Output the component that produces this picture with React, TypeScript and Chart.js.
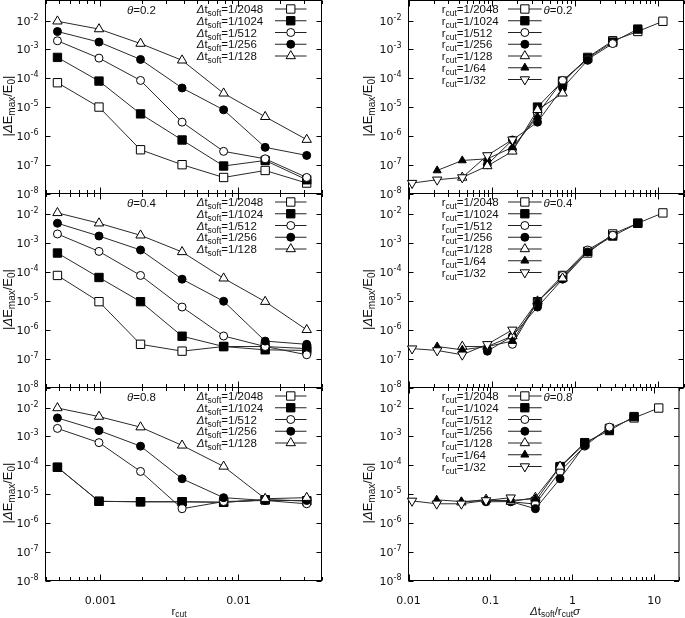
import React, { useEffect, useRef } from 'react';
import { Chart, registerables } from 'chart.js';

Chart.register(...registerables);

const FONT = '"DejaVu Sans", "Liberation Sans", sans-serif';
const FONT2 = '"Liberation Sans", Arial, sans-serif';

// ---------- data ----------
const rcutLabels = ['1/2048', '1/1024', '1/512', '1/256', '1/128', '1/64', '1/32'];
const rcutValues = [1 / 2048, 1 / 1024, 1 / 512, 1 / 256, 1 / 128, 1 / 64, 1 / 32];
const dtLabels = ['1/2048', '1/1024', '1/512', '1/256', '1/128'];
const dtValues = [1 / 2048, 1 / 1024, 1 / 512, 1 / 256, 1 / 128];
const thetaLabels = ['0.2', '0.4', '0.8'];
const SIGMA = Math.SQRT2;

// rows: Δt_soft = 1/2048 … 1/128 ; columns: r_cut = 1/2048 … 1/32
const errTheta02 = [
  [7.0e-5, 1.0e-5, 3.3e-7, 1.0e-7, 3.6e-8, 6.3e-8, 2.3e-8],
  [5.3e-4, 8.0e-5, 5.8e-6, 7.2e-7, 9.0e-8, 1.4e-7, 3.0e-8],
  [2.0e-3, 5.0e-4, 8.4e-5, 3.0e-6, 2.9e-7, 1.6e-7, 3.6e-8],
  [4.2e-3, 1.8e-3, 4.5e-4, 4.6e-5, 8.0e-6, 4.0e-7, 2.1e-7],
  [9.5e-3, 5.1e-3, 1.6e-3, 4.2e-4, 3.0e-5, 4.6e-6, 7.4e-7],
];
const errTheta04 = [
  [7.4e-5, 9.2e-6, 3.1e-7, 1.8e-7, 2.6e-7, 2.6e-7, 2.2e-7],
  [4.4e-4, 6.3e-5, 9.2e-6, 5.9e-7, 2.6e-7, 2.0e-7, 1.9e-7],
  [2.0e-3, 5.0e-4, 7.4e-5, 6.0e-6, 6.0e-7, 2.6e-7, 1.35e-7],
  [4.7e-3, 1.7e-3, 5.6e-4, 5.5e-5, 9.5e-6, 4.0e-7, 3.1e-7],
  [1.07e-2, 4.7e-3, 1.8e-3, 4.8e-4, 5.9e-5, 9.2e-6, 9.8e-7],
];
const errTheta08 = [
  [8.5e-5, 5.6e-6, 5.4e-6, 5.4e-6, 5.2e-6, 6.3e-6, 5.8e-6],
  [5.5e-4, 9.0e-5, 4.5e-6, 5.5e-6, 6.5e-6, 5.5e-6, 4.6e-6],
  [1.9e-3, 6.1e-4, 6.1e-5, 3.1e-6, 5.5e-6, 6.0e-6, 4.6e-6],
  [4.4e-3, 1.6e-3, 4.6e-4, 3.4e-5, 7.5e-6, 6.0e-6, 6.0e-6],
  [9.7e-3, 4.9e-3, 2.1e-3, 4.9e-4, 9.1e-5, 6.9e-6, 7.5e-6],
];
// which data row is plotted for each Δt_soft legend entry in the left panels
const leftRowsTheta02 = [0, 1, 2, 3, 4];
const leftRowsTheta04 = [0, 1, 2, 3, 4];
const leftRowsTheta08 = [0, 0, 2, 3, 4];

const yTickValues = [1e-8, 1e-7, 1e-6, 1e-5, 1e-4, 1e-3, 1e-2];
const yTickExponents = ['-8', '-7', '-6', '-5', '-4', '-3', '-2'];
const yRange = [1e-8, 5e-2];
const leftXRange = [4e-4, 4e-2];
const rightXRange = [0.01, 20];
const leftXMajor = [0.001, 0.01];
const leftXMajorLabels = ['0.001', '0.01'];
const rightXMajor = [0.01, 0.1, 1, 10];
const rightXMajorLabels = ['0.01', '0.1', '1', '10'];

const matrices = [errTheta02, errTheta04, errTheta08];
const leftRows = [leftRowsTheta02, leftRowsTheta04, leftRowsTheta08];

// ---------- styles / layout ----------
type Marker = { style: string; fill: boolean; r: number; rot: number };
const markers: Marker[] = [
  { style: 'rect', fill: false, r: 5.9, rot: 0 },
  { style: 'rect', fill: true, r: 5.9, rot: 0 },
  { style: 'circle', fill: false, r: 4.0, rot: 0 },
  { style: 'circle', fill: true, r: 4.0, rot: 0 },
  { style: 'triangle', fill: false, r: 5.4, rot: 0 },
  { style: 'triangle', fill: true, r: 4.6, rot: 0 },
  { style: 'triangle', fill: false, r: 5.4, rot: 180 },
];

const W = 685;
const H = 618;
const rowTop = [0.5, 193.5, 387.5];
const rowBottom = [193.5, 387.5, 580.5];
const cols = [
  { yWidth: 45.5, padLeft: 0, right: 321.5, legendText: 196.7, line1: 275, line2: 306.5, theta: 127, yTitleX: 11.5, xTitleX: 179 },
  { yWidth: 40, padLeft: 368.5, right: 683.5, legendText: 441.7, line1: 508, line2: 541.7, theta: 543.5, yTitleX: 371.5, xTitleX: 555 },
];

type Part = { t: string; sub?: boolean; sup?: boolean; it?: boolean };
type TextStyle = { fam: string; size: number; small: number; subDy: number; supDy: number };
const tickStyle: TextStyle = { fam: FONT, size: 11, small: 8, subDy: 3, supDy: -5 };
const legendStyle: TextStyle = { fam: FONT2, size: 11.5, small: 8.5, subDy: 3, supDy: -5 };
const titleStyle: TextStyle = { fam: FONT2, size: 13, small: 10, subDy: 3, supDy: -5 };

function fontFor(p: Part, s: TextStyle) {
  const size = p.sub || p.sup ? s.small : s.size;
  return `${p.it ? 'italic ' : ''}${size}px ${s.fam}`;
}
function partsWidth(ctx: CanvasRenderingContext2D, parts: Part[], s: TextStyle) {
  let w = 0;
  for (const p of parts) {
    ctx.font = fontFor(p, s);
    w += ctx.measureText(p.t).width;
  }
  return w;
}
function drawParts(ctx: CanvasRenderingContext2D, parts: Part[], x: number, baseY: number, align: string, s: TextStyle) {
  const total = partsWidth(ctx, parts, s);
  let cx = align === 'right' ? x - total : align === 'center' ? x - total / 2 : x;
  ctx.textAlign = 'left';
  ctx.textBaseline = 'alphabetic';
  for (const p of parts) {
    ctx.font = fontFor(p, s);
    const dy = p.sub ? s.subDy : p.sup ? s.supDy : 0;
    ctx.fillText(p.t, cx, baseY + dy);
    cx += ctx.measureText(p.t).width;
  }
}
function drawMarker(ctx: CanvasRenderingContext2D, m: Marker, x: number, y: number) {
  ctx.beginPath();
  if (m.style === 'rect') {
    const s = m.r * Math.SQRT1_2;
    ctx.rect(x - s, y - s, 2 * s, 2 * s);
  } else if (m.style === 'circle') {
    ctx.arc(x, y, m.r, 0, Math.PI * 2);
  } else {
    let rad = (m.rot * Math.PI) / 180;
    ctx.moveTo(x + Math.sin(rad) * m.r, y - Math.cos(rad) * m.r);
    rad += (2 * Math.PI) / 3;
    ctx.lineTo(x + Math.sin(rad) * m.r, y - Math.cos(rad) * m.r);
    rad += (2 * Math.PI) / 3;
    ctx.lineTo(x + Math.sin(rad) * m.r, y - Math.cos(rad) * m.r);
    ctx.closePath();
  }
  ctx.fillStyle = m.fill ? '#000' : '#fff';
  ctx.fill();
  ctx.lineWidth = 1;
  ctx.strokeStyle = '#000';
  ctx.stroke();
}

const decorPlugin = {
  id: 'panelDecor',
  beforeDatasetsDraw(chart: any) {
    const { ctx, chartArea: a } = chart;
    const xs = chart.scales.x;
    const ys = chart.scales.y;
    ctx.save();
    ctx.strokeStyle = '#000';
    ctx.lineWidth = 1;
    ctx.beginPath();
    for (const t of xs.ticks) {
      const p = Math.round(xs.getPixelForValue(t.value)) + 0.5;
      const len = t.major ? 6 : 3.5;
      ctx.moveTo(p, a.bottom);
      ctx.lineTo(p, a.bottom - len);
      ctx.moveTo(p, a.top);
      ctx.lineTo(p, a.top + len);
    }
    for (const t of ys.ticks) {
      const p = Math.round(ys.getPixelForValue(t.value)) + 0.5;
      ctx.moveTo(a.left, p);
      ctx.lineTo(a.left + 5, p);
      ctx.moveTo(a.right, p);
      ctx.lineTo(a.right - 5, p);
    }
    ctx.stroke();
    ctx.strokeRect(a.left, a.top, a.right - a.left, a.bottom - a.top);
    ctx.restore();
  },
  afterDatasetsDraw(chart: any, _args: any, o: any) {
    const { ctx, chartArea: a } = chart;
    const ys = chart.scales.y;
    ctx.save();
    ctx.fillStyle = '#111';
    // y tick labels 10^k
    ys.ticks.forEach((t: any, i: number) => {
      const p = ys.getPixelForValue(t.value);
      drawParts(ctx, [{ t: '10' }, { t: yTickExponents[i], sup: true }], a.left - 7, p + 4, 'right', tickStyle);
    });
    // y title
    ctx.save();
    ctx.translate(o.yTitleX, (a.top + a.bottom) / 2 + 9);
    ctx.rotate(-Math.PI / 2);
    ctx.fillStyle = '#111';
    drawParts(
      ctx,
      [{ t: '|' }, { t: 'Δ', it: true }, { t: 'E' }, { t: 'max', sub: true }, { t: '/E' }, { t: '0', sub: true }, { t: '|' }],
      0,
      0,
      'center',
      titleStyle
    );
    ctx.restore();
    // theta label
    ctx.fillStyle = '#111';
    drawParts(ctx, [{ t: 'θ', it: true }, { t: '=' + o.theta }], o.thetaX, a.top + 13.5, 'left', legendStyle);
    // legend
    o.entries.forEach((e: any, i: number) => {
      const y = a.top + 8.5 + i * 11.75;
      ctx.fillStyle = '#111';
      drawParts(ctx, e.parts, o.legendText, y + 4, 'left', legendStyle);
      ctx.strokeStyle = '#222';
      ctx.lineWidth = 1;
      ctx.beginPath();
      ctx.moveTo(o.line1, y);
      ctx.lineTo(o.line2, y);
      ctx.stroke();
      drawMarker(ctx, e.marker, (o.line1 + o.line2) / 2, y);
    });
    // x title
    if (o.xTitle) {
      ctx.fillStyle = '#111';
      drawParts(ctx, o.xTitle, o.xTitleX, 614.5, 'center', { ...legendStyle, subDy: 2.5 });
    }
    ctx.restore();
  },
};

function logTicks(min: number, max: number, majors: number[]) {
  const out: any[] = [];
  for (let e = Math.floor(Math.log10(min)) - 1; e <= Math.ceil(Math.log10(max)); e++) {
    for (let m = 1; m <= 9; m++) {
      const v = Number((m * Math.pow(10, e)).toPrecision(6));
      if (v >= min * (1 - 1e-9) && v <= max * (1 + 1e-9)) {
        out.push({ value: v, major: majors.some((mv) => Math.abs(mv - v) / mv < 1e-6) });
      }
    }
  }
  return out;
}

function makeConfig(colIdx: number, rowIdx: number) {
  const col = cols[colIdx];
  const M = matrices[rowIdx];
  const isBottom = rowIdx === 2;
  const top = rowTop[rowIdx];
  const bottom = rowBottom[rowIdx];
  const xRange = colIdx === 0 ? leftXRange : rightXRange;
  const xMajor = colIdx === 0 ? leftXMajor : rightXMajor;
  const xMajorLabels = colIdx === 0 ? leftXMajorLabels : rightXMajorLabels;

  const datasetStyle = (m: Marker, i: number, n: number) => ({
    showLine: true,
    borderColor: '#2a2a2a',
    borderWidth: 1,
    pointStyle: m.style,
    pointRadius: m.r,
    pointHoverRadius: m.r,
    pointRotation: m.rot,
    pointBackgroundColor: m.fill ? '#000' : '#fff',
    pointBorderColor: '#000',
    pointBorderWidth: 1,
    fill: false,
    tension: 0,
    order: n - i,
    clip: 8,
  });

  let datasets: any[];
  let entries: any[];
  if (colIdx === 0) {
    const rows = leftRows[rowIdx];
    datasets = dtLabels.map((lab, k) => ({
      label: 'Δt_soft=' + lab,
      data: rcutValues.map((rc, j) => ({ x: rc, y: M[rows[k]][j] })),
      ...datasetStyle(markers[k], k, dtLabels.length),
    }));
    entries = dtLabels.map((lab, k) => ({
      parts: [{ t: 'Δ', it: true }, { t: 't' }, { t: 'soft', sub: true }, { t: '=' + lab }],
      marker: markers[k],
    }));
  } else {
    datasets = rcutLabels.map((lab, j) => ({
      label: 'r_cut=' + lab,
      data: dtValues.map((dt, i) => ({ x: dt / rcutValues[j] / SIGMA, y: M[i][j] })),
      ...datasetStyle(markers[j], j, rcutLabels.length),
    }));
    entries = rcutLabels.map((lab, j) => ({
      parts: [{ t: 'r' }, { t: 'cut', sub: true }, { t: '=' + lab }],
      marker: markers[j],
    }));
  }

  const xTitle = !isBottom
    ? null
    : colIdx === 0
    ? [{ t: 'r' }, { t: 'cut', sub: true }]
    : [{ t: 'Δ', it: true }, { t: 't' }, { t: 'soft', sub: true }, { t: '/r' }, { t: 'cut', sub: true }, { t: 'σ', it: true }];

  return {
    type: 'scatter',
    data: { datasets },
    plugins: [decorPlugin],
    options: {
      responsive: false,
      animation: false,
      events: [],
      layout: {
        autoPadding: false,
        padding: { left: col.padLeft, right: W - col.right, top, bottom: isBottom ? 0 : H - bottom },
      },
      scales: {
        x: {
          type: 'logarithmic',
          position: 'bottom',
          min: xRange[0],
          max: xRange[1],
          grid: { display: false },
          border: { display: false },
          ticks: {
            display: isBottom,
            autoSkip: false,
            maxRotation: 0,
            minRotation: 0,
            padding: 6,
            color: '#111',
            font: { family: FONT, size: 11 },
            callback: (v: number) => {
              const idx = xMajor.findIndex((mv) => Math.abs(mv - v) / mv < 1e-6);
              return idx >= 0 ? xMajorLabels[idx] : '';
            },
          },
          afterBuildTicks: (s: any) => {
            s.ticks = logTicks(xRange[0], xRange[1], xMajor);
          },
          afterFit: (s: any) => {
            s.height = isBottom ? H - bottom : 0;
          },
        },
        y: {
          type: 'logarithmic',
          position: 'left',
          min: yRange[0],
          max: yRange[1],
          grid: { display: false },
          border: { display: false },
          ticks: { display: false },
          afterBuildTicks: (s: any) => {
            s.ticks = yTickValues.map((v) => ({ value: v, major: true }));
          },
          afterFit: (s: any) => {
            s.width = col.yWidth;
          },
        },
      },
      plugins: {
        legend: { display: false },
        tooltip: { enabled: false },
        panelDecor: {
          entries,
          theta: thetaLabels[rowIdx],
          thetaX: col.theta,
          legendText: col.legendText,
          line1: col.line1,
          line2: col.line2,
          yTitleX: col.yTitleX,
          xTitle,
          xTitleX: col.xTitleX,
        },
      },
    },
  };
}

const panelList = [
  [0, 0], [0, 1], [0, 2],
  [1, 0], [1, 1], [1, 2],
];

export default function App() {
  const refs = useRef<(HTMLCanvasElement | null)[]>([]);
  useEffect(() => {
    const charts = panelList.map(([c, r], i) => {
      const canvas = refs.current[i] as HTMLCanvasElement;
      return new Chart(canvas, makeConfig(c, r) as any);
    });
    return () => charts.forEach((ch) => ch.destroy());
  }, []);
  return (
    <div style={{ position: 'absolute', left: 0, top: 0, width: W, height: H, background: '#fff' }}>
      {panelList.map((_, i) => (
        <canvas
          key={i}
          ref={(el) => {
            refs.current[i] = el;
          }}
          width={W}
          height={H}
          style={{ position: 'absolute', left: 0, top: 0, width: W, height: H }}
        />
      ))}
    </div>
  );
}
